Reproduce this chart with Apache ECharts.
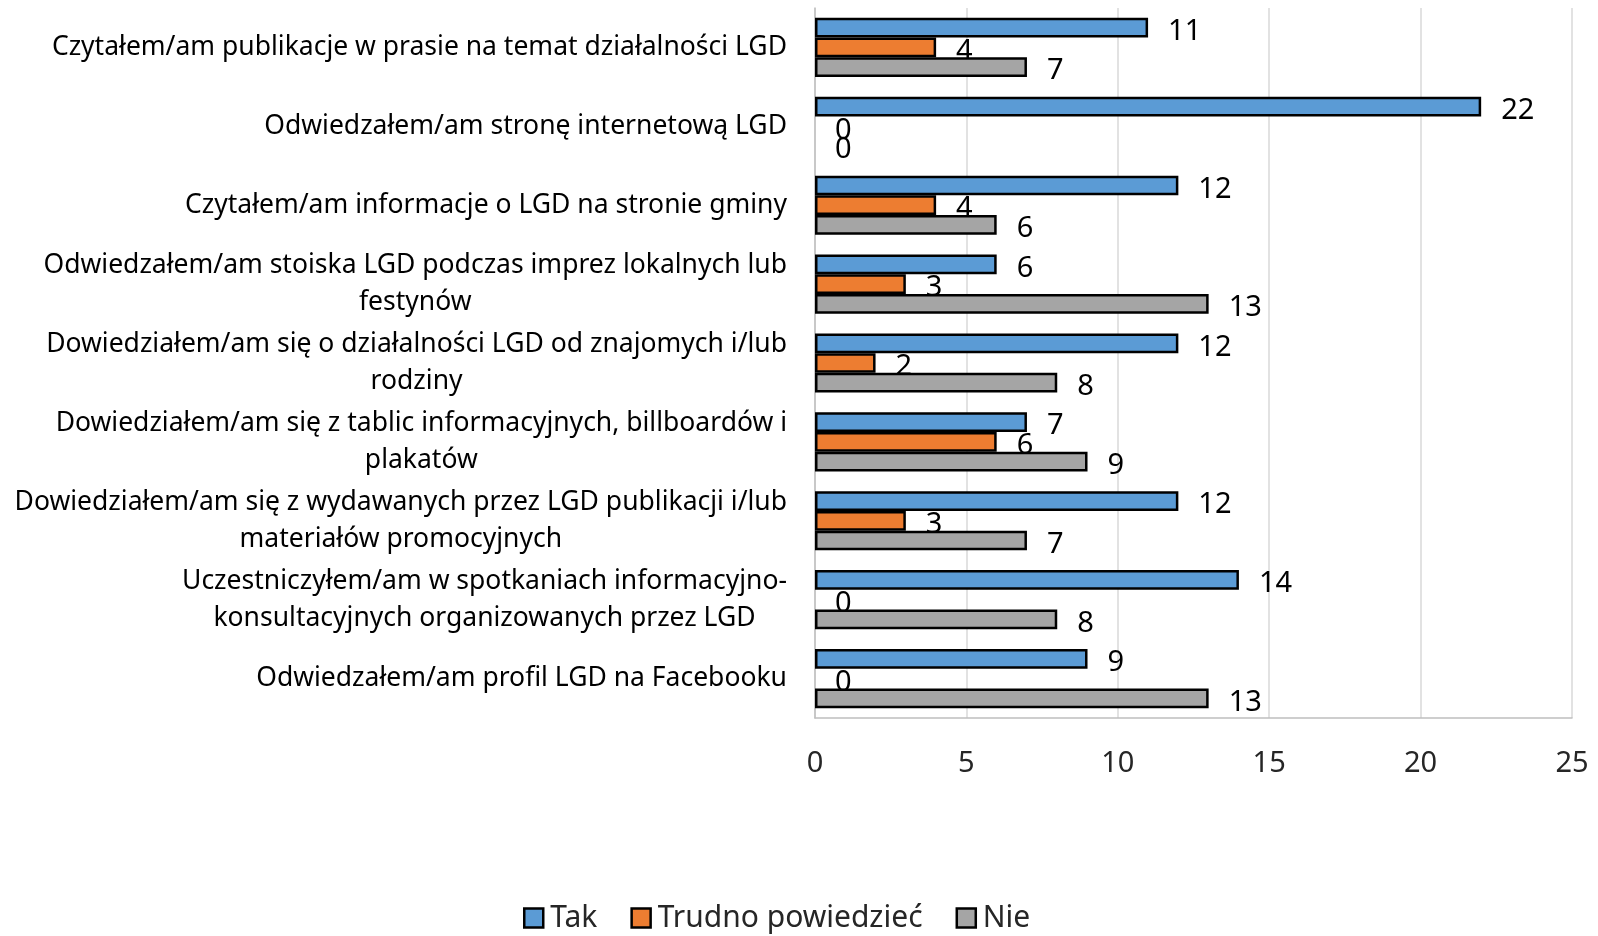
<!DOCTYPE html>
<html>
<head>
<meta charset="utf-8">
<script src="https://cdn.jsdelivr.net/npm/echarts@6/dist/echarts.min.js"></script>
<style>
  html, body { margin: 0; padding: 0; background: #fff; }
  #chart { width: 1598px; height: 936px; }
</style>
</head>
<body>
<div id="chart"></div>
<script>
// kategorie od góry do dołu
const categories = [
  "Czytałem/am publikacje w prasie na temat działalności LGD",
  "Odwiedzałem/am stronę internetową LGD",
  "Czytałem/am informacje o LGD na stronie gminy",
  "Odwiedzałem/am stoiska LGD podczas imprez lokalnych lub\nfestynów",
  "Dowiedziałem/am się o działalności LGD od znajomych i/lub\nrodziny",
  "Dowiedziałem/am się z tablic informacyjnych, billboardów i\nplakatów",
  "Dowiedziałem/am się z wydawanych przez LGD publikacji i/lub\nmateriałów promocyjnych",
  "Uczestniczyłem/am w spotkaniach informacyjno-\nkonsultacyjnych organizowanych przez LGD",
  "Odwiedzałem/am profil LGD na Facebooku"
];
const tak = [11, 22, 12, 6, 12, 7, 12, 14, 9];
const trudno = [4, 0, 4, 3, 2, 6, 3, 0, 0];
const nie = [7, 0, 6, 13, 8, 9, 7, 8, 13];
const xTicks = [0, 5, 10, 15, 20, 25];

const FONT = "Noto Sans";

const chart = echarts.init(document.getElementById("chart"));

function barSeries(name, data, color, z) {
  return {
    name: name,
    type: "bar",
    // zerowe słupki bez obramowania
    data: data.map(function (v) {
      return { value: v, itemStyle: { borderWidth: v === 0 ? 0 : 2.5 } };
    }),
    z: z,
    barGap: "0%",
    barCategoryGap: "25%",
    itemStyle: {
      color: color,
      borderColor: "#000",
      borderWidth: 2.5
    },
    label: {
      show: true,
      position: "right",
      distance: 20,
      offset: [0, 4],
      color: "#000",
      fontFamily: FONT,
      fontSize: 29
    }
  };
}

const legendItem = function (name) {
  return { name: name, icon: "rect", itemStyle: { borderColor: "#000", borderWidth: 2.5 } };
};

chart.setOption({
  animation: false,
  textStyle: { fontFamily: FONT },
  grid: {
    left: 815,
    right: 26,
    top: 8,
    bottom: 218,
    containLabel: false
  },
  legend: {
    bottom: -2,
    left: 518,
    itemWidth: 19,
    itemHeight: 19,
    itemGap: 33,
    textStyle: { fontSize: 30, color: "#262626", fontFamily: FONT, padding: [0, 0, 0, 2] },
    data: [legendItem("Tak"), legendItem("Trudno powiedzieć"), legendItem("Nie")]
  },
  xAxis: {
    type: "value",
    min: xTicks[0],
    max: xTicks[xTicks.length - 1],
    interval: 5,
    axisLine: { show: true, lineStyle: { color: "#BFBFBF", width: 1.5 } },
    axisTick: { show: false },
    splitLine: { show: true, lineStyle: { color: "#D9D9D9", width: 1.5 } },
    axisLabel: {
      margin: 31,
      color: "#262626",
      fontSize: 29,
      fontFamily: FONT
    }
  },
  yAxis: {
    type: "category",
    inverse: true,
    data: categories,
    axisLine: { show: true, lineStyle: { color: "#BFBFBF", width: 1.5 } },
    axisTick: { show: false },
    axisLabel: {
      margin: 28,
      align: "right",
      color: "#000",
      fontSize: 26.5,
      fontFamily: FONT,
      lineHeight: 37,
      formatter: function (v) {
        return v.split("\n").map(function (s) { return "{c|" + s + "}"; }).join("\n");
      },
      rich: {
        c: { align: "center", fontSize: 26.5, lineHeight: 37, color: "#000", fontFamily: FONT }
      }
    }
  },
  series: [
    barSeries("Tak", tak, "#5B9BD5", 2),
    barSeries("Trudno powiedzieć", trudno, "#ED7D31", 2),
    barSeries("Nie", nie, "#A5A5A5", 3)
  ]
});
</script>
</body>
</html>
